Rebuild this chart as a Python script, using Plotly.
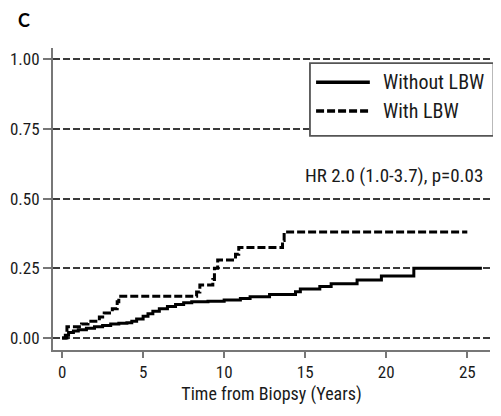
import plotly.graph_objects as go

# Without LBW (solid) step curve
t_without = [0, 0.2, 0.4, 0.7, 1.0, 1.5, 2.0, 2.5, 3.0, 3.5, 4.0, 4.3, 4.6, 5.0, 5.3, 5.6, 6.0,
             6.5, 7.0, 7.5, 8.0, 9.0, 10.0, 11.0, 11.6, 12.8, 14.4, 14.7, 15.9, 16.6, 18.2,
             19.7, 21.7, 25.9]
y_without = [0, 0.01, 0.02, 0.025, 0.03, 0.035, 0.04, 0.045, 0.05, 0.053, 0.055, 0.06, 0.068,
             0.078, 0.087, 0.096, 0.105, 0.113, 0.12, 0.126, 0.13, 0.132, 0.136, 0.142, 0.148,
             0.156, 0.166, 0.176, 0.185, 0.195, 0.208, 0.222, 0.25, 0.25]

# With LBW (dashed) step curve
t_with = [0, 0.3, 1.2, 1.6, 2.3, 2.6, 3.1, 3.4, 3.5, 8.3, 8.5, 9.3, 9.4, 9.6, 10.7, 10.9,
          13.6, 13.7, 25.0]
y_with = [0, 0.04, 0.05, 0.06, 0.075, 0.09, 0.105, 0.13, 0.15, 0.165, 0.19, 0.21, 0.25, 0.28,
          0.30, 0.325, 0.35, 0.38, 0.38]

x_ticks = [0, 5, 10, 15, 20, 25]
y_ticks = [0.0, 0.25, 0.5, 0.75, 1.0]
y_ticklabels = ["0.00", "0.25", "0.50", "0.75", "1.00"]

series_names = ["Without LBW", "With LBW"]
hr_text = "HR 2.0 (1.0-3.7), p=0.03"
panel_label = "C"
x_title = "Time from Biopsy (Years)"

FONT = "Liberation Sans Narrow, Roboto Condensed, Arial Narrow, sans-serif"

fig = go.Figure()
fig.add_trace(go.Scatter(x=t_without, y=y_without, mode="lines", line_shape="hv",
                         line=dict(color="black", width=3), name=series_names[0],
                         showlegend=False))
fig.add_trace(go.Scatter(x=t_with, y=y_with, mode="lines", line_shape="hv",
                         line=dict(color="black", width=3, dash="8px,3px"), name=series_names[1],
                         showlegend=False))

fig.update_layout(
    width=493, height=408,
    margin=dict(l=45, r=11, t=40, b=66, autoexpand=False),
    paper_bgcolor="white", plot_bgcolor="white",
    font=dict(family=FONT, color="#222", size=17),
    xaxis=dict(range=[-0.56, 26.4], tickvals=x_ticks, showgrid=False, zeroline=False,
               automargin=False,
               showline=True, linecolor="#777", linewidth=2, ticks="outside", ticklen=6,
               tickwidth=1.5, tickcolor="#777", tickfont=dict(size=17, family=FONT, color="#1a1a1a"),
               title=dict(text=x_title, font=dict(size=18, family=FONT, color="#1a1a1a"), standoff=6)),
    yaxis=dict(range=[-0.043, 1.04], tickvals=y_ticks, ticktext=y_ticklabels, showgrid=True,
               automargin=False,
               gridcolor="#3a3a3a", gridwidth=1.8, griddash="7px,3px", zeroline=False,
               showline=True, linecolor="#777", linewidth=2, ticks="outside", ticklen=8,
               tickwidth=1.5, tickcolor="#777", tickfont=dict(size=17, family=FONT, color="#1a1a1a")),
)

# Manual legend
fig.add_shape(type="rect", xref="paper", yref="paper", x0=0.588, x1=1.008, y0=0.709, y1=0.950,
              line=dict(color="#555", width=1.8), fillcolor="white", layer="above")
fig.add_shape(type="line", xref="paper", yref="paper", x0=0.602, x1=0.725, y0=0.887, y1=0.887,
              line=dict(color="black", width=3.5))
fig.add_shape(type="line", xref="paper", yref="paper", x0=0.602, x1=0.725, y0=0.791, y1=0.791,
              line=dict(color="black", width=3.5, dash="8px,3px"))
fig.add_annotation(xref="paper", yref="paper", x=0.751, y=0.887, text=series_names[0],
                   showarrow=False, xanchor="left", yanchor="middle",
                   font=dict(size=20, family=FONT, color="#1a1a1a"))
fig.add_annotation(xref="paper", yref="paper", x=0.751, y=0.791, text=series_names[1],
                   showarrow=False, xanchor="left", yanchor="middle",
                   font=dict(size=20, family=FONT, color="#1a1a1a"))

fig.add_annotation(xref="paper", yref="paper", x=0.989, y=0.579, text=hr_text,
                   showarrow=False, xanchor="right", yanchor="middle",
                   font=dict(size=19, family=FONT, color="#1a1a1a"))
fig.add_annotation(xref="paper", yref="paper", x=-0.066, y=1.093, text="<b>" + panel_label + "</b>",
                   showarrow=False, xanchor="center", yanchor="middle",
                   font=dict(size=18, family="Lato, Open Sans, sans-serif", color="black"))

fig.write_html("out.html")
